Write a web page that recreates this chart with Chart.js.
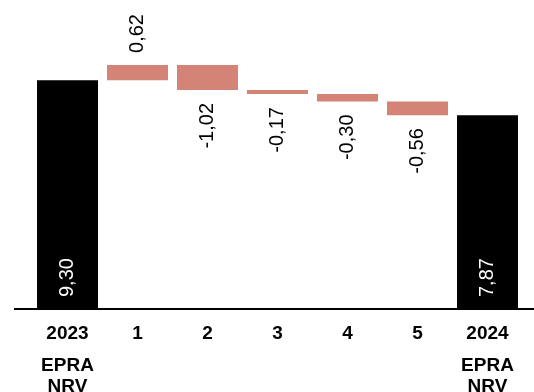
<!DOCTYPE html>
<html lang="en">
<head>
    <meta charset="UTF-8">
    <title>EPRA NRV bridge</title>
    <style>
        html, body {
            margin: 0;
            padding: 0;
            background: #fff;
        }

        .chart-container {
            width: 534px;
            height: 392px;
        }
    </style>
</head>
<body>
    <div class="chart-container">
        <canvas id="bridgeChart"></canvas>
    </div>

    <script src="https://cdn.jsdelivr.net/npm/chart.js"></script>

    <script>
        // Chart data
        const categories = ['2023', '1', '2', '3', '4', '5', '2024'];
        const subLabels = [['EPRA', 'NRV'], '', '', '', '', '', ['EPRA', 'NRV']];
        const startValue = 9.30;
        const changes = [0.62, -1.02, -0.17, -0.30, -0.56];
        const endValue = 7.87;

        const FONT = "'Liberation Sans', Arial, Helvetica, sans-serif";
        const totalColor = '#000000';
        const deltaColor = '#d48477';

        // Build floating bars [from, to]
        const ranges = [[0, startValue]];
        const labelValues = [startValue];
        let running = startValue;
        changes.forEach(c => {
            ranges.push([running, running + c]);
            labelValues.push(c);
            running += c;
        });
        ranges.push([0, endValue]);
        labelValues.push(endValue);

        const isTotal = i => i === 0 || i === categories.length - 1;
        const fmt = v => v.toFixed(2).replace('.', ',');

        // Draws the value labels rotated, and the baseline
        const labelPlugin = {
            id: 'bridgeLabels',
            afterDatasetsDraw(chart) {
                const ctx = chart.ctx;
                const meta = chart.getDatasetMeta(0);
                const zeroY = chart.scales.y.getPixelForValue(0);

                ctx.save();
                ctx.strokeStyle = '#000';
                ctx.lineWidth = 2;
                ctx.beginPath();
                ctx.moveTo(14, zeroY + 1);
                ctx.lineTo(chart.width, zeroY + 1);
                ctx.stroke();

                ctx.font = '20px ' + FONT;
                ctx.textBaseline = 'middle';
                meta.data.forEach((bar, i) => {
                    const v = labelValues[i];
                    const top = Math.min(bar.y, bar.base);
                    const bottom = Math.max(bar.y, bar.base);
                    ctx.save();
                    if (isTotal(i)) {
                        ctx.translate(bar.x, bottom - 11);
                        ctx.rotate(-Math.PI / 2);
                        ctx.fillStyle = '#fff';
                        ctx.textAlign = 'left';
                    } else if (v >= 0) {
                        ctx.translate(bar.x, top - 12);
                        ctx.rotate(-Math.PI / 2);
                        ctx.fillStyle = '#000';
                        ctx.textAlign = 'left';
                    } else {
                        ctx.translate(bar.x, bottom + 13);
                        ctx.rotate(-Math.PI / 2);
                        ctx.fillStyle = '#000';
                        ctx.textAlign = 'right';
                    }
                    ctx.fillText(fmt(v), 0, 0);
                    ctx.restore();
                });
                ctx.restore();
            }
        };

        const ctx = document.getElementById('bridgeChart').getContext('2d');

        new Chart(ctx, {
            type: 'bar',
            data: {
                labels: categories,
                datasets: [{
                    data: ranges,
                    backgroundColor: categories.map((_, i) => isTotal(i) ? totalColor : deltaColor),
                    borderWidth: 0,
                    barPercentage: 0.871,
                    categoryPercentage: 1
                }]
            },
            options: {
                responsive: true,
                maintainAspectRatio: false,
                animation: false,
                layout: {
                    padding: { left: 32.5, right: 11.5, top: 14, bottom: 0 }
                },
                plugins: {
                    legend: { display: false },
                    tooltip: { enabled: false }
                },
                scales: {
                    y: {
                        display: false,
                        min: 0,
                        max: 12
                    },
                    x: {
                        position: 'bottom',
                        weight: 0,
                        grid: { display: false, drawTicks: false },
                        border: { display: false },
                        ticks: {
                            color: '#000',
                            padding: 14,
                            maxRotation: 0,
                            autoSkip: false,
                            font: { family: FONT, size: 19, weight: 'bold' }
                        },
                        afterFit(scale) { scale.height = 40; }
                    },
                    x2: {
                        type: 'category',
                        labels: subLabels,
                        position: 'bottom',
                        weight: 1,
                        offset: true,
                        grid: { display: false, drawTicks: false },
                        border: { display: false },
                        ticks: {
                            color: '#000',
                            padding: 7.5,
                            maxRotation: 0,
                            autoSkip: false,
                            font: { family: FONT, size: 19, weight: 'bold', lineHeight: 1.105 }
                        },
                        afterFit(scale) { scale.height = 44; }
                    }
                }
            },
            plugins: [labelPlugin]
        });
    </script>
</body>
</html>
